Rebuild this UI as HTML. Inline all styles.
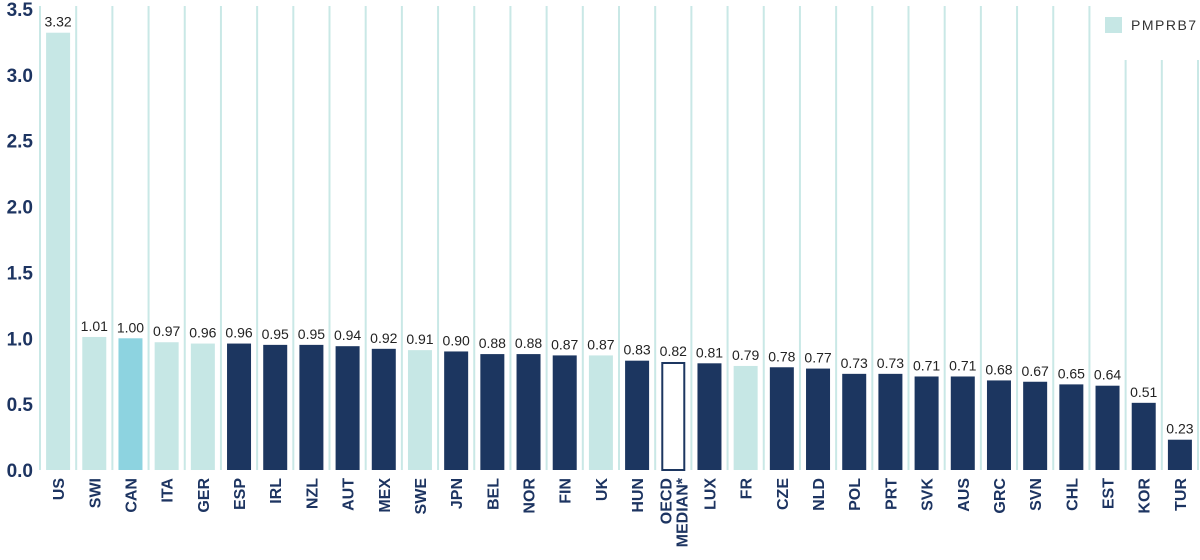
<!DOCTYPE html>
<html><head><meta charset="utf-8"><style>
body{margin:0;background:#fff;}
svg{display:block;font-family:"Liberation Sans",sans-serif;}
</style></head><body>
<svg id="c" width="1200" height="560"></svg>
<script>
const categories=["US","SWI","CAN","ITA","GER","ESP","IRL","NZL","AUT","MEX","SWE","JPN","BEL","NOR","FIN","UK","HUN","OECD|MEDIAN*","LUX","FR","CZE","NLD","POL","PRT","SVK","AUS","GRC","SVN","CHL","EST","KOR","TUR"];
const values=[3.32,1.01,1.00,0.97,0.96,0.96,0.95,0.95,0.94,0.92,0.91,0.90,0.88,0.88,0.87,0.87,0.83,0.82,0.81,0.79,0.78,0.77,0.73,0.73,0.71,0.71,0.68,0.67,0.65,0.64,0.51,0.23];
const groups=["p","p","can","p","p","o","o","o","o","o","p","o","o","o","o","p","o","med","o","p","o","o","o","o","o","o","o","o","o","o","o","o"];
const yTicks=[0,0.5,1,1.5,2,2.5,3,3.5];
const NS="http://www.w3.org/2000/svg";
const svg=document.getElementById('c');
const x0=40, y0=470, yMax=3.5, yTop=9;
const n=categories.length;
const slotW=(1198-x0)/n;
function yS(v){return y0-(v/yMax)*(y0-yTop);}
function xS(i){return x0+slotW*i+slotW/2;}
function mk(t,a){const e=document.createElementNS(NS,t);for(const k in a)e.setAttribute(k,a[k]);svg.appendChild(e);return e;}
for(let i=0;i<=n;i++){
  const x=x0+slotW*i;
  const top=(x>1095)?60:6;
  const l=mk('line',{x1:x,x2:x,y1:top,y2:y0,stroke:'#c9e8e6','stroke-width':2});
  
  
}
yTicks.forEach(v=>{
  const t=mk('text',{x:33,y:yS(v)+7,'text-anchor':'end','font-size':19,'font-weight':'bold',fill:'#1d3461'});
  t.textContent=v.toFixed(1);
  
  
});
const colors={p:'#c6e7e5',can:'#8dd3e0',o:'#1c3660',med:'#fff'};
categories.forEach((c,i)=>{
  const cx=xS(i);
  const v=values[i];
  const y=yS(v);
  const bw=24;
  const r=mk('rect',{x:cx-bw/2,y:y,width:bw,height:y0-y,fill:colors[groups[i]]});
  if(groups[i]==='med'){r.setAttribute('stroke','#1c3660');r.setAttribute('stroke-width',2);r.setAttribute('x',cx-bw/2+1);r.setAttribute('width',bw-2);r.setAttribute('y',y+1);r.setAttribute('height',y0-y-1);}
  
  
  const vt=mk('text',{x:cx,y:y-6,'text-anchor':'middle','font-size':14,fill:'#222'});
  vt.textContent=v.toFixed(2);
  
  
  const parts=c.split('|');
  parts.forEach((p,k)=>{
    const lx=cx+6+(k-(parts.length-1)/2)*16;
    const t=mk('text',{x:0,y:0,'text-anchor':'end','font-size':16,'font-weight':'bold',fill:'#1d3461',transform:`translate(${lx},478) rotate(-90)`});
    t.textContent=p;
    
    
  });
});
const lg=mk('rect',{x:1105,y:17,width:17,height:16,fill:'#c6e7e5'});


const lt=mk('text',{x:1131,y:30,'font-size':14,fill:'#333','letter-spacing':'1.5'});
lt.textContent='PMPRB7';


</script>
</body></html>
